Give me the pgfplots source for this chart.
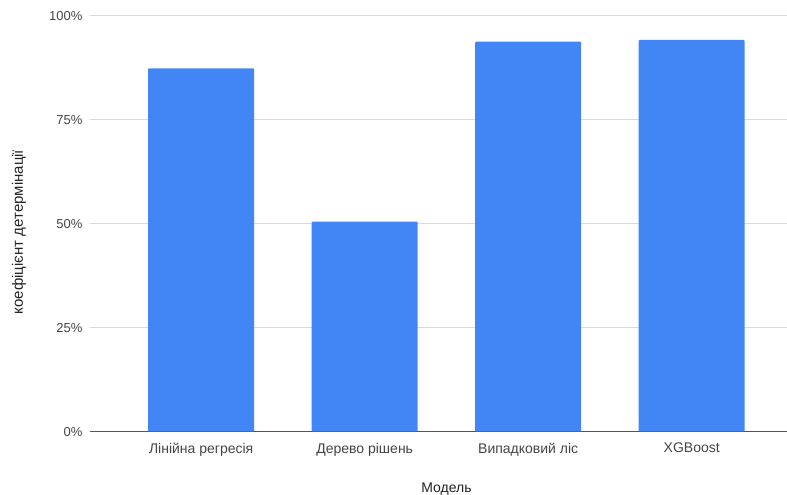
\documentclass[border=0pt]{standalone}
\usepackage{pgfplots}
\pgfplotsset{compat=1.18}
\usepackage{fontspec}
\setmainfont{Liberation Sans}
\definecolor{barblue}{HTML}{4285F4}
\definecolor{gridgray}{HTML}{D9D9D9}
\definecolor{basegray}{HTML}{555555}
\definecolor{ticktext}{HTML}{444444}
\definecolor{labeltext}{HTML}{222222}
\begin{document}
\begin{tikzpicture}
\path[use as bounding box] (-90pt,-63.5pt) rectangle (697pt,431.5pt);
\begin{axis}[
  at={(0,0)}, anchor=south west,
  scale only axis,
  width=712.9pt, height=416.5pt,
  xmin=-0.68, xmax=3.68,
  ymin=0, ymax=100,
  ybar, bar width=106pt,
  xtick={0,1,2,3},
  xticklabels={Лінійна регресія, Дерево рішень, Випадковий ліс, XGBoost},
  ytick={0,25,50,75,100},
  yticklabels={0\%,25\%,50\%,75\%,100\%},
  axis x line*=bottom,
  axis y line*=left,
  y axis line style={draw=none},
  x axis line style={draw=basegray, line width=0.9pt},
  major tick length=0pt,
  ymajorgrids,
  grid style={draw=gridgray, line width=0.9pt},
  tick label style={text=ticktext},
  yticklabel style={font=\fontsize{13}{15}\selectfont, xshift=-4pt, yshift=-1pt},
  xticklabel style={font=\fontsize{14}{16}\selectfont, yshift=-8pt},
  /pgf/number format/assume math mode=true,
  xlabel={Модель},
  ylabel={коефіцієнт детермінації},
  label style={text=labeltext},
  xlabel style={font=\fontsize{14}{16}\selectfont, at={(axis description cs:0.5,-0.139)}, anchor=center},
  ylabel style={font=\fontsize{15}{17}\selectfont, at={(axis description cs:-0.0996,0.479)}, anchor=center},
  clip=false,
]
\addplot[fill=barblue, draw=none, rounded corners=1pt] coordinates {(0,87.2) (1,50.4) (2,93.6) (3,94.0)};
\end{axis}
\end{tikzpicture}
\end{document}
